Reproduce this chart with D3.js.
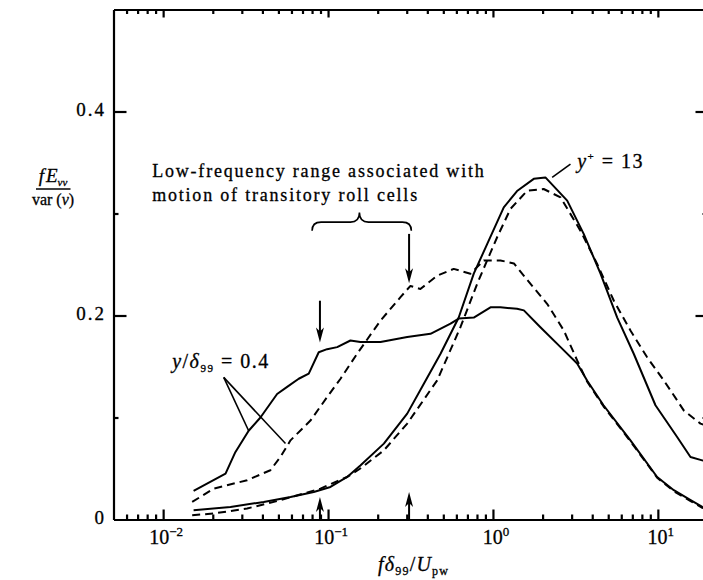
<!DOCTYPE html>
<html><head>
<meta charset="utf-8">
<title>fEvv spectra</title>
<script src="https://d3js.org/d3.v7.min.js"></script>
<style>
  body { margin: 0; background: white; }
  svg text { font-family: "Liberation Serif", "Times New Roman", serif; fill: black; stroke: black; stroke-width: 0.3px; }
  .curve { fill: none; stroke: black; stroke-width: 2; stroke-linejoin: round; }
  .dashed { stroke-dasharray: 8,5; }
</style>
</head>
<body>
<svg id="chart" width="703" height="580"></svg>

<script>
// ---- data ----
// y/delta99 = 0.4, solid
var freqA = [0.0153, 0.0239, 0.0274, 0.0330, 0.0389, 0.0491, 0.0565, 0.0664, 0.0764, 0.0878, 0.0987, 0.1136,
             0.1367, 0.157, 0.208, 0.302, 0.418, 0.553, 0.620, 0.765, 0.966, 1.11, 1.40, 1.54, 1.94, 2.57,
             3.24, 3.73, 4.68, 6.82, 9.90, 12.5, 15.8, 18.6, 19.6];
var valA  = [0.028, 0.045, 0.066, 0.087, 0.100, 0.123, 0.130, 0.138, 0.143, 0.164, 0.167, 0.169,
             0.1755, 0.174, 0.174, 0.179, 0.182, 0.192, 0.197, 0.198, 0.208, 0.208, 0.2066, 0.205, 0.1885, 0.169,
             0.153, 0.136, 0.112, 0.0776, 0.0417, 0.0287, 0.0189, 0.0123, 0.011];
// y/delta99 = 0.4, dashed
var freqB = [0.0150, 0.0203, 0.0323, 0.0447, 0.0514, 0.0592, 0.0782, 0.0987, 0.119, 0.150, 0.208, 0.275,
             0.316, 0.363, 0.459, 0.578, 0.730, 0.880, 1.11, 1.34, 1.69, 2.13, 2.69, 3.24, 3.73, 4.68,
             6.82, 9.90, 12.5, 15.8, 18.6, 19.6];
var valB  = [0.0172, 0.0303, 0.0385, 0.0483, 0.0613, 0.0776, 0.097, 0.120, 0.138, 0.1625, 0.195, 0.218,
             0.229, 0.226, 0.239, 0.2457, 0.241, 0.254, 0.254, 0.251, 0.231, 0.2115, 0.1853, 0.156, 0.135, 0.111,
             0.0766, 0.041, 0.0277, 0.018, 0.0115, 0.0105];
// y+ = 13, solid
var freqC = [0.0153, 0.0256, 0.0407, 0.0592, 0.0819, 0.1034, 0.1306, 0.157, 0.218, 0.302, 0.381, 0.481,
             0.620, 0.765, 0.922, 1.163, 1.40, 1.768, 2.08, 2.82, 3.55, 4.49, 5.67, 7.14, 9.67, 13.09,
             15.77, 18.57, 19.6];
var valC  = [0.0091, 0.0123, 0.0172, 0.0221, 0.027, 0.0319, 0.0417, 0.053, 0.0744, 0.1038, 0.133, 0.1625,
             0.198, 0.241, 0.270, 0.306, 0.322, 0.334, 0.3354, 0.3126, 0.280, 0.241, 0.198, 0.1625, 0.112, 0.0809,
             0.0613, 0.058, 0.057];
// y+ = 13, dashed
var freqD = [0.0150, 0.0203, 0.0323, 0.0514, 0.0899, 0.1306, 0.157, 0.218, 0.302, 0.459, 0.635, 0.802,
             0.922, 1.06, 1.277, 1.613, 2.03, 2.57, 3.39, 4.285, 5.40, 6.82, 8.61, 10.86, 13.09, 14.35,
             18.13, 19.6];
var valD  = [0.0042, 0.0059, 0.0108, 0.0189, 0.0303, 0.0417, 0.050, 0.0678, 0.094, 0.1364, 0.1885, 0.231,
             0.254, 0.2767, 0.3045, 0.3224, 0.324, 0.3158, 0.2832, 0.2506, 0.2147, 0.1853, 0.159, 0.1364, 0.1168, 0.107,
             0.094, 0.092];

// ticks
var xMajor = [0.01, 0.1, 1, 10];
var xExponents = ["\u22122", "\u22121", "0", "1"];
var xMinor = [0.006, 0.007, 0.008, 0.009, 0.02, 0.03, 0.04, 0.05, 0.06, 0.07, 0.08, 0.09,
              0.2, 0.3, 0.4, 0.5, 0.6, 0.7, 0.8, 0.9, 2, 3, 4, 5, 6, 7, 8, 9];
var yMajor = [0.2, 0.4];
var yMinor = [0.1, 0.3];
var yLabelVals = [0, 0.2, 0.4];
var yLabelText = ["0", "0.2", "0.4"];

// annotation anchors (data units)
var downArrows = [[0.0893, 0.2145, 0.1735], [0.31, 0.280, 0.2315]];
var upArrows = [[0.0893, 0.0, 0.022], [0.31, 0.0, 0.027]];
var leaderLow = [[0.0233, 0.1393, 0.0330, 0.087], [0.0233, 0.1393, 0.0552, 0.0745]];
var leaderYplus = [2.286, 0.3354, 2.951, 0.3485];

// ---- scales ----
var svg = d3.select("#chart");
var x = d3.scaleLog().domain([0.005, 20]).range([113.5, 707.5]);
var y = d3.scaleLinear().domain([0, 0.5]).range([519.5, 9.5]);

// ---- axes: one call per side, then shorten the minor ticks (all point inwards) ----
function addAxis(axis, tx, ty, major, minor, majorLen, minorLen, horiz) {
  var all = major.concat(minor);
  var g = svg.append("g")
    .attr("transform", "translate(" + tx + "," + ty + ")")
    .call(axis.tickValues(all).tickSize(majorLen).tickSizeOuter(0).tickFormat(""));
  g.select(".domain").attr("stroke", "black").attr("stroke-width", 2.2);
  g.selectAll(".tick line")
    .attr("stroke", "black")
    .attr("stroke-width", 2.2)
    .attr(horiz ? "y2" : "x2", function(d) {
      var len = major.indexOf(d) >= 0 ? majorLen : minorLen;
      return horiz ? len * (ty > 300 ? 1 : -1) : len * (tx < 300 ? -1 : 1);
    });
  return g;
}
addAxis(d3.axisBottom(x), 0, y(0), xMajor, xMinor, -10, -5, true);
addAxis(d3.axisTop(x), 0, y(0.5), xMajor, xMinor, -8, -4.5, true);
addAxis(d3.axisLeft(y), x(0.005), 0, yMajor, yMinor, -13, -5, false);
addAxis(d3.axisRight(y), x(20), 0, yMajor, yMinor, -12, -5, false);

// tick labels
svg.append("g").selectAll("text").data(yLabelVals).join("text")
  .attr("x", 106).attr("y", function(d) { return y(d) + 4.5; })
  .attr("text-anchor", "end").attr("font-size", 19).attr("letter-spacing", 2)
  .text(function(d, i) { return yLabelText[i]; });

var xl = svg.append("g").selectAll("text").data(xMajor).join("text")
  .attr("x", function(d) { return x(d) + 3; }).attr("y", y(0) + 24)
  .attr("text-anchor", "middle").attr("font-size", 20);
xl.append("tspan").text("10");
xl.append("tspan").attr("dy", -8).attr("font-size", 13).text(function(d, i) { return xExponents[i]; });

// axis titles
var num = svg.append("text").attr("x", 53).attr("y", 181.5).attr("text-anchor", "middle").attr("font-size", 19);
num.append("tspan").attr("font-style", "italic").text("f");
num.append("tspan").attr("font-style", "italic").attr("dx", 2).text("E");
num.append("tspan").attr("font-style", "italic").attr("font-size", 11).attr("dy", 4).text("vv");
svg.append("line").attr("x1", 36).attr("x2", 70.5).attr("y1", 189).attr("y2", 189)
  .attr("stroke", "black").attr("stroke-width", 1.3);
var den = svg.append("text").attr("x", 53).attr("y", 205).attr("text-anchor", "middle").attr("font-size", 16);
den.append("tspan").text("var (");
den.append("tspan").attr("font-style", "italic").text("v");
den.append("tspan").text(")");

var xt = svg.append("text").attr("x", 378).attr("y", 571).attr("font-size", 20).attr("letter-spacing", 1.2);
xt.append("tspan").attr("font-style", "italic").text("f");
xt.append("tspan").attr("font-style", "italic").text("\u03b4");
xt.append("tspan").attr("font-size", 12).attr("dy", 4).text("99");
xt.append("tspan").attr("dy", -4).text("/");
xt.append("tspan").attr("font-style", "italic").text("U");
xt.append("tspan").attr("font-size", 12).attr("dy", 4).text("pw");

// ---- curves ----
var line = d3.line()
  .x(function(d) { return x(d[0]); })
  .y(function(d) { return y(d[1]); });

function addCurve(fs, vs, dashed, w) {
  svg.append("path")
    .datum(d3.zip(fs, vs))
    .attr("class", dashed ? "curve dashed" : "curve")
    .attr("stroke-width", w)
    .attr("d", line);
}
addCurve(freqA, valA, false, 1.9);
addCurve(freqB, valB, true, 2);
addCurve(freqC, valC, false, 2.2);
addCurve(freqD, valD, true, 2);

// ---- annotations ----
var ann = svg.append("g");
var low = ann.append("text").attr("x", x(0.00858)).attr("y", y(0.3354))
  .attr("font-size", 18).attr("letter-spacing", 1.8);
low.append("tspan").text("Low-frequency range associated with");
low.append("tspan").attr("x", x(0.00858)).attr("y", y(0.3126)).text("motion of transitory roll cells");

// brace over the low-frequency range
var bx0 = x(0.08), bx1 = x(0.32), bxm = x(0.155);
var byE = y(0.283), byM = y(0.2915), byT = y(0.301);
ann.append("path")
  .attr("d", "M" + bx0 + "," + byE + " Q" + bx0 + "," + byM + " " + (bx0 + 9) + "," + byM +
             " L" + (bxm - 9) + "," + byM + " Q" + bxm + "," + byM + " " + bxm + "," + byT +
             " Q" + bxm + "," + byM + " " + (bxm + 9) + "," + byM +
             " L" + (bx1 - 9) + "," + byM + " Q" + bx1 + "," + byM + " " + bx1 + "," + byE)
  .attr("fill", "none").attr("stroke", "black").attr("stroke-width", 1.6);

function arrow(f, vFrom, vTo) {
  var ax = x(f), y0 = y(vFrom), y1 = y(vTo);
  var dir = y1 > y0 ? 1 : -1;
  ann.append("line").attr("x1", ax).attr("x2", ax).attr("y1", y0).attr("y2", y1 - dir * 10)
    .attr("stroke", "black").attr("stroke-width", 2);
  ann.append("path")
    .attr("d", "M" + ax + "," + y1 + " L" + (ax - 4) + "," + (y1 - dir * 15) +
               " L" + ax + "," + (y1 - dir * 11) + " L" + (ax + 4) + "," + (y1 - dir * 15) + "Z")
    .attr("fill", "black");
}
downArrows.forEach(function(a) { arrow(a[0], a[1], a[2]); });
upArrows.forEach(function(a) { arrow(a[0], a[1], a[2]); });

leaderLow.forEach(function(l) {
  ann.append("line").attr("x1", x(l[0])).attr("y1", y(l[1])).attr("x2", x(l[2])).attr("y2", y(l[3]))
    .attr("stroke", "black").attr("stroke-width", 1.6);
});
ann.append("line").attr("x1", x(leaderYplus[0])).attr("y1", y(leaderYplus[1]))
  .attr("x2", x(leaderYplus[2])).attr("y2", y(leaderYplus[3]))
  .attr("stroke", "black").attr("stroke-width", 1.6);

var lab1 = ann.append("text").attr("x", x(0.01134)).attr("y", y(0.149)).attr("font-size", 20).attr("letter-spacing", 1.5);
lab1.append("tspan").attr("font-style", "italic").text("y");
lab1.append("tspan").text("/");
lab1.append("tspan").attr("font-style", "italic").text("\u03b4");
lab1.append("tspan").attr("font-size", 11).attr("dy", 4).text("99");
lab1.append("tspan").attr("dy", -4).text(" = 0.4");

var lab2 = ann.append("text").attr("x", x(3.24)).attr("y", y(0.345)).attr("font-size", 20).attr("letter-spacing", 1.5);
lab2.append("tspan").attr("font-style", "italic").text("y");
lab2.append("tspan").attr("font-size", 11).attr("dy", -8).text("+");
lab2.append("tspan").attr("dy", 8).text(" = 13");
</script>
</body></html>
